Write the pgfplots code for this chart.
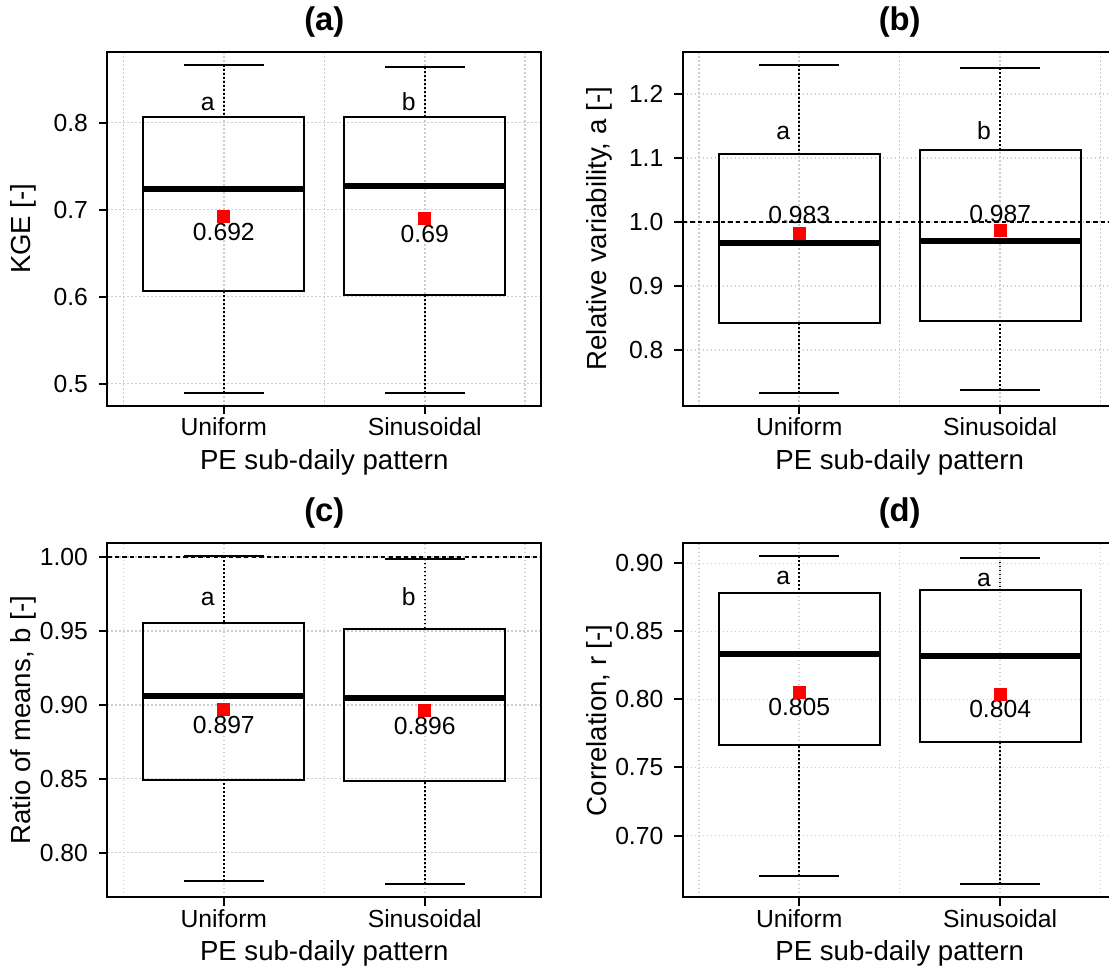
\documentclass[border=0pt]{standalone}
\usepackage{fontspec}
\setmainfont{Liberation Sans}
\usepackage{pgfplots}
\pgfplotsset{compat=1.18}
\usepgfplotslibrary{statistics}
\definecolor{gridgray}{RGB}{205,205,205}
\tikzset{lab/.style={font=\fontsize{12.35}{14}\selectfont}}

\pgfplotsset{
  rbox/.style={
    scale only axis, width=217pt, height=177pt,
    xmin=0.42, xmax=2.58,
    xtick={1,2}, xticklabels={Uniform,Sinusoidal},
    minor xtick={0.5,1.5,2.5},
    grid=both,
    major grid style={draw=gridgray, line width=0.75pt, dash pattern=on 0.75pt off 1.25pt},
    minor grid style={draw=gridgray, line width=0.75pt, dash pattern=on 0.75pt off 1.25pt},
    minor tick length=0pt,
    tick align=outside, tick pos=left,
    major tick length=4.15pt,
    axis line style={line width=1pt},
    every tick/.style={black, line width=1pt},
    /pgf/number format/assume math mode=true,
    tick label style={font=\fontsize{12.35}{14}\selectfont},
    xticklabel style={yshift=1.5pt},
    yticklabel style={xshift=-2pt},
    label style={font=\fontsize{13.8}{16}\selectfont},
    every axis title/.style={at={(axis description cs:0.5,1.0847)}, anchor=center, font=\fontsize{16.4}{19}\selectfont\bfseries},
    xlabel={PE sub-daily pattern},
    xlabel style={at={(axis description cs:0.5,-0.1596)}, anchor=center},
    ylabel style={at={(axis description cs:-0.1929,0.5)}, anchor=center},
    clip=false,
    boxplot/draw direction=y,
    boxplot/box extend=0.8,
    boxplot/whisker extend=0.4,
    boxplot/draw/lower whisker/.code={
      \draw[black, solid, line width=0.75pt, dash pattern=on 0.9pt off 1.1pt]
        (boxplot box cs:\pgfplotsboxplotvalue{lower whisker},0.5) --
        (boxplot box cs:\pgfplotsboxplotvalue{lower quartile},0.5);
      \draw[black, solid, line width=1pt]
        (boxplot whisker cs:\pgfplotsboxplotvalue{lower whisker},0) --
        (boxplot whisker cs:\pgfplotsboxplotvalue{lower whisker},1);
    },
    boxplot/draw/upper whisker/.code={
      \draw[black, solid, line width=0.75pt, dash pattern=on 0.9pt off 1.1pt]
        (boxplot box cs:\pgfplotsboxplotvalue{upper whisker},0.5) --
        (boxplot box cs:\pgfplotsboxplotvalue{upper quartile},0.5);
      \draw[black, solid, line width=1pt]
        (boxplot whisker cs:\pgfplotsboxplotvalue{upper whisker},0) --
        (boxplot whisker cs:\pgfplotsboxplotvalue{upper whisker},1);
    },
    boxplot/draw/median/.code={
      \draw[black, solid, line width=3pt]
        (boxplot box cs:\pgfplotsboxplotvalue{median},0) --
        (boxplot box cs:\pgfplotsboxplotvalue{median},1);
    },
  },
  meanmark/.style={only marks, mark=square*, mark size=3pt, color=red, mark options={draw=red, fill=red}},
  refline/.style={black, line width=0.75pt, dash pattern=on 2.2pt off 1.6pt},
}

\begin{document}
\begin{tikzpicture}
% ---------------- (a) ----------------
\begin{axis}[rbox, at={(53.65pt,-25.85pt)}, anchor=north west,
  title={(a)}, ylabel={KGE [-]},
  ymin=0.4746, ymax=0.8816, ytick={0.5,0.6,0.7,0.8},
  yticklabel style={/pgf/number format/fixed, /pgf/number format/fixed zerofill, /pgf/number format/precision=1}]
\addplot[black, line width=1pt, solid, boxplot prepared={draw position=1,
  lower whisker=0.4896, lower quartile=0.6069, median=0.7242,
  upper quartile=0.8065, upper whisker=0.8665}] coordinates {};
\addplot[black, line width=1pt, solid, boxplot prepared={draw position=2,
  lower whisker=0.4889, lower quartile=0.6015, median=0.7272,
  upper quartile=0.8060, upper whisker=0.8642}] coordinates {};
\addplot[meanmark] coordinates {(1,0.692) (2,0.690)};
\node[lab, anchor=center] at (axis cs:1,0.6743) {0.692};
\node[lab, anchor=center] at (axis cs:2,0.6724) {0.69};
\node[lab, anchor=base] at (axis cs:0.92,0.8142) {a};
\node[lab, anchor=base] at (axis cs:1.92,0.8142) {b};
\end{axis}
% ---------------- (b) ----------------
\begin{axis}[rbox, at={(341.35pt,-25.85pt)}, anchor=north west,
  title={(b)}, ylabel={Relative variability, a [-]},
  ymin=0.7134, ymax=1.2658, ytick={0.8,0.9,1.0,1.1,1.2},
  yticklabel style={/pgf/number format/fixed, /pgf/number format/fixed zerofill, /pgf/number format/precision=1}]
\addplot[refline] coordinates {(0.42,1) (2.58,1)};
\addplot[black, line width=1pt, solid, boxplot prepared={draw position=1,
  lower whisker=0.7339, lower quartile=0.8432, median=0.9677,
  upper quartile=1.1063, upper whisker=1.2453}] coordinates {};
\addplot[black, line width=1pt, solid, boxplot prepared={draw position=2,
  lower whisker=0.7380, lower quartile=0.8458, median=0.9703,
  upper quartile=1.1120, upper whisker=1.2406}] coordinates {};
\addplot[meanmark] coordinates {(1,0.983) (2,0.987)};
\node[lab, anchor=center] at (axis cs:1,1.0104) {0.983};
\node[lab, anchor=center] at (axis cs:2,1.0130) {0.987};
\node[lab, anchor=base] at (axis cs:0.92,1.1292) {a};
\node[lab, anchor=base] at (axis cs:1.92,1.1292) {b};
\end{axis}
% ---------------- (c) ----------------
\begin{axis}[rbox, at={(53.65pt,-271.65pt)}, anchor=north west,
  title={(c)}, ylabel={Ratio of means, b [-]},
  ymin=0.7697, ymax=1.0093, ytick={0.80,0.85,0.90,0.95,1.00},
  yticklabel style={/pgf/number format/fixed, /pgf/number format/fixed zerofill, /pgf/number format/precision=2}]
\addplot[refline] coordinates {(0.42,1) (2.58,1)};
\addplot[black, line width=1pt, solid, boxplot prepared={draw position=1,
  lower whisker=0.7808, lower quartile=0.8491, median=0.9059,
  upper quartile=0.9552, upper whisker=1.0004}] coordinates {};
\addplot[black, line width=1pt, solid, boxplot prepared={draw position=2,
  lower whisker=0.7786, lower quartile=0.8487, median=0.9043,
  upper quartile=0.9516, upper whisker=0.9989}] coordinates {};
\addplot[meanmark] coordinates {(1,0.897) (2,0.896)};
\node[lab, anchor=center] at (axis cs:1,0.8865) {0.897};
\node[lab, anchor=center] at (axis cs:2,0.8857) {0.896};
\node[lab, anchor=base] at (axis cs:0.92,0.9673) {a};
\node[lab, anchor=base] at (axis cs:1.92,0.9673) {b};
\end{axis}
% ---------------- (d) ----------------
\begin{axis}[rbox, at={(341.35pt,-271.65pt)}, anchor=north west,
  title={(d)}, ylabel={Correlation, r [-]},
  ymin=0.6546, ymax=0.9147, ytick={0.70,0.75,0.80,0.85,0.90},
  yticklabel style={/pgf/number format/fixed, /pgf/number format/fixed zerofill, /pgf/number format/precision=2}]
\addplot[black, line width=1pt, solid, boxplot prepared={draw position=1,
  lower whisker=0.6703, lower quartile=0.7667, median=0.8336,
  upper quartile=0.8779, upper whisker=0.9051}] coordinates {};
\addplot[black, line width=1pt, solid, boxplot prepared={draw position=2,
  lower whisker=0.6642, lower quartile=0.7684, median=0.8319,
  upper quartile=0.8804, upper whisker=0.9042}] coordinates {};
\addplot[meanmark] coordinates {(1,0.805) (2,0.804)};
\node[lab, anchor=center] at (axis cs:1,0.7941) {0.805};
\node[lab, anchor=center] at (axis cs:2,0.7929) {0.804};
\node[lab, anchor=base] at (axis cs:0.92,0.8848) {a};
\node[lab, anchor=base] at (axis cs:1.92,0.8828) {a};
\end{axis}
\pgfresetboundingbox
\path[use as bounding box] (0,0) rectangle (554.5pt,-484.5pt);
\end{tikzpicture}
\end{document}
